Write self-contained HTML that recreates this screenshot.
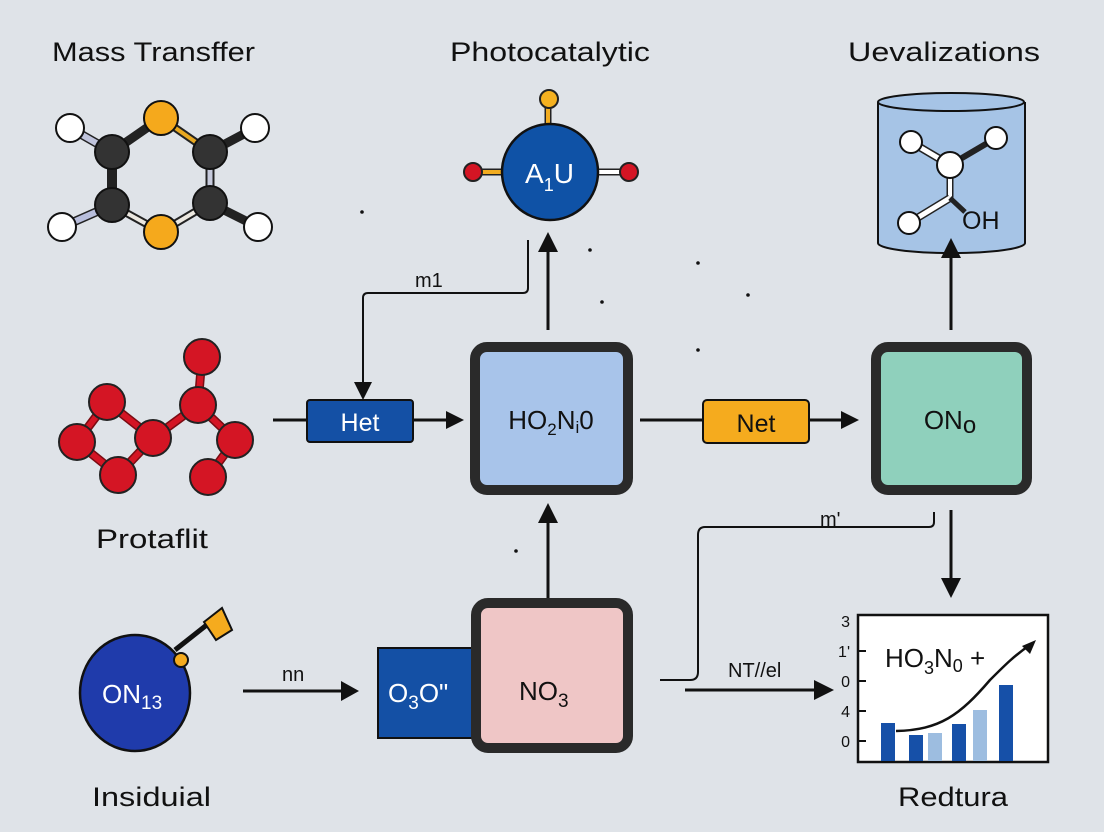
<!DOCTYPE html>
<html><head><meta charset="utf-8"><style>
html,body{margin:0;padding:0;background:#dfe3e8;}
svg{display:block;font-family:"Liberation Sans",sans-serif;}
</style></head><body>
<svg width="1104" height="832" viewBox="0 0 1104 832" xmlns="http://www.w3.org/2000/svg">
<rect width="1104" height="832" fill="#dfe3e8"/>
<!-- titles -->
<text x="52" y="61" font-size="27" fill="#111" textLength="203" lengthAdjust="spacingAndGlyphs">Mass Transffer</text>
<text x="450" y="61" font-size="27" fill="#111" textLength="200" lengthAdjust="spacingAndGlyphs">Photocatalytic</text>
<text x="848" y="61" font-size="27" fill="#111" textLength="192" lengthAdjust="spacingAndGlyphs">Uevalizations</text>
<text x="96" y="548" font-size="27" fill="#111" textLength="112" lengthAdjust="spacingAndGlyphs">Protaflit</text>
<text x="92" y="806" font-size="27" fill="#111" textLength="119" lengthAdjust="spacingAndGlyphs">Insiduial</text>
<text x="898" y="806" font-size="27" fill="#111" textLength="110" lengthAdjust="spacingAndGlyphs">Redtura</text>

<!-- hexagon molecule -->
<g stroke-linecap="round">
<line x1="70" y1="128" x2="112" y2="152" stroke="#222" stroke-width="9"/>
<line x1="70" y1="128" x2="112" y2="152" stroke="#c0c4dc" stroke-width="6"/>
<line x1="255" y1="128" x2="210" y2="152" stroke="#222" stroke-width="9"/>
<line x1="62" y1="227" x2="112" y2="205" stroke="#222" stroke-width="9"/>
<line x1="62" y1="227" x2="112" y2="205" stroke="#b8bedc" stroke-width="6"/>
<line x1="258" y1="227" x2="210" y2="203" stroke="#222" stroke-width="9"/>
<line x1="112" y1="152" x2="161" y2="118" stroke="#222" stroke-width="9"/>
<line x1="161" y1="118" x2="210" y2="152" stroke="#222" stroke-width="8"/>
<line x1="161" y1="118" x2="210" y2="152" stroke="#e8a820" stroke-width="4"/>
<line x1="112" y1="152" x2="112" y2="205" stroke="#222" stroke-width="10"/>
<line x1="210" y1="152" x2="210" y2="203" stroke="#222" stroke-width="9"/>
<line x1="210" y1="152" x2="210" y2="203" stroke="#c6cadc" stroke-width="5"/>
<line x1="112" y1="205" x2="161" y2="232" stroke="#222" stroke-width="8"/>
<line x1="112" y1="205" x2="161" y2="232" stroke="#ece8e0" stroke-width="4"/>
<line x1="161" y1="232" x2="210" y2="203" stroke="#222" stroke-width="8"/>
<line x1="161" y1="232" x2="210" y2="203" stroke="#ece8e0" stroke-width="4"/>
</g>
<g stroke="#111" stroke-width="2">
<circle cx="70" cy="128" r="14" fill="#fff"/>
<circle cx="255" cy="128" r="14" fill="#fff"/>
<circle cx="62" cy="227" r="14" fill="#fff"/>
<circle cx="258" cy="227" r="14" fill="#fff"/>
<circle cx="112" cy="152" r="17" fill="#333"/>
<circle cx="210" cy="152" r="17" fill="#333"/>
<circle cx="112" cy="205" r="17" fill="#333"/>
<circle cx="210" cy="203" r="17" fill="#333"/>
<circle cx="161" cy="118" r="17" fill="#f5a91c"/>
<circle cx="161" cy="232" r="17" fill="#f5a91c"/>
</g>

<!-- red molecule -->
<g stroke="#222" stroke-width="2" fill="#d41524">
<g stroke="#7a0b12" stroke-width="9">
<line x1="202" y1="357" x2="198" y2="405"/>
<line x1="107" y1="402" x2="153" y2="438"/>
<line x1="107" y1="402" x2="77" y2="442"/>
<line x1="77" y1="442" x2="118" y2="475"/>
<line x1="118" y1="475" x2="153" y2="438"/>
<line x1="153" y1="438" x2="198" y2="405"/>
<line x1="198" y1="405" x2="235" y2="440"/>
<line x1="235" y1="440" x2="208" y2="477"/>
</g>
<g stroke="#d41524" stroke-width="6">
<line x1="202" y1="357" x2="198" y2="405"/>
<line x1="107" y1="402" x2="153" y2="438"/>
<line x1="107" y1="402" x2="77" y2="442"/>
<line x1="77" y1="442" x2="118" y2="475"/>
<line x1="118" y1="475" x2="153" y2="438"/>
<line x1="153" y1="438" x2="198" y2="405"/>
<line x1="198" y1="405" x2="235" y2="440"/>
<line x1="235" y1="440" x2="208" y2="477"/>
</g>
<circle cx="202" cy="357" r="18"/>
<circle cx="198" cy="405" r="18"/>
<circle cx="107" cy="402" r="18"/>
<circle cx="77" cy="442" r="18"/>
<circle cx="153" cy="438" r="18"/>
<circle cx="118" cy="475" r="18"/>
<circle cx="235" cy="440" r="18"/>
<circle cx="208" cy="477" r="18"/>
</g>

<!-- A1U circle -->
<line x1="548" y1="100" x2="548" y2="130" stroke="#222" stroke-width="7"/>
<line x1="548" y1="100" x2="548" y2="130" stroke="#f2ac20" stroke-width="4"/>
<line x1="472" y1="172" x2="505" y2="172" stroke="#222" stroke-width="7"/>
<line x1="472" y1="172" x2="505" y2="172" stroke="#f2ac20" stroke-width="4"/>
<line x1="590" y1="172" x2="628" y2="172" stroke="#222" stroke-width="7"/>
<line x1="590" y1="172" x2="628" y2="172" stroke="#fff" stroke-width="4"/>
<circle cx="549" cy="99" r="9" fill="#f5b120" stroke="#222" stroke-width="2"/>
<circle cx="473" cy="172" r="9" fill="#d41524" stroke="#222" stroke-width="2"/>
<circle cx="629" cy="172" r="9" fill="#d41524" stroke="#222" stroke-width="2"/>
<circle cx="550" cy="172" r="48" fill="#0f52a6" stroke="#111" stroke-width="2.5"/>
<text x="525" y="183" font-size="28" fill="#fff">A<tspan font-size="18" dy="8">1</tspan><tspan dy="-8">U</tspan></text>

<!-- cylinder -->
<path d="M878,102 L878,243 A73,10 0 0 0 1025,243 L1025,102" fill="#a6c4e6" stroke="#111" stroke-width="2"/>
<ellipse cx="951" cy="102" rx="73" ry="9" fill="#a6c4e6" stroke="#111" stroke-width="2"/>
<g stroke="#111" stroke-width="2">
<line x1="911" y1="142" x2="950" y2="165" stroke="#222" stroke-width="8"/>
<line x1="911" y1="142" x2="950" y2="165" stroke="#fff" stroke-width="5"/>
<line x1="996" y1="138" x2="950" y2="165" stroke="#222" stroke-width="6"/>
<line x1="950" y1="165" x2="950" y2="200" stroke="#222" stroke-width="7"/>
<line x1="950" y1="165" x2="950" y2="200" stroke="#fff" stroke-width="4"/>
<line x1="950" y1="198" x2="909" y2="223" stroke="#222" stroke-width="8"/>
<line x1="950" y1="198" x2="909" y2="223" stroke="#fff" stroke-width="5"/>
<line x1="950" y1="198" x2="965" y2="212" stroke="#222" stroke-width="5"/>
<circle cx="911" cy="142" r="11" fill="#fff"/>
<circle cx="996" cy="138" r="11" fill="#fff"/>
<circle cx="950" cy="165" r="13" fill="#fff"/>
<circle cx="909" cy="223" r="11" fill="#fff"/>
</g>
<text x="962" y="229" font-size="25" fill="#111">OH</text>

<!-- connectors -->
<g stroke="#111" stroke-width="3" fill="none">
<line x1="548" y1="330" x2="548" y2="250"/>
<path d="M528,240 V288 Q528,293 523,293 H368 Q363,293 363,298 V386" stroke-width="2"/>
<line x1="273" y1="420" x2="307" y2="420"/>
<line x1="413" y1="420" x2="450" y2="420"/>
<line x1="640" y1="420" x2="703" y2="420"/>
<line x1="808" y1="420" x2="845" y2="420"/>
<line x1="951" y1="330" x2="951" y2="255"/>
<line x1="951" y1="510" x2="951" y2="582"/>
<path d="M934,512 V522 Q934,527 929,527 H705 Q698,527 698,535 V672 Q698,680 690,680 H660" stroke-width="2"/>
<line x1="548" y1="598" x2="548" y2="520"/>
<line x1="243" y1="691" x2="345" y2="691"/>
<line x1="685" y1="690" x2="818" y2="690"/>
</g>
<g fill="#111">
<polygon points="538,252 558,252 548,232"/>
<polygon points="354,382 372,382 363,400"/>
<polygon points="446,411 446,429 464,420"/>
<polygon points="841,411 841,429 859,420"/>
<polygon points="941,258 961,258 951,238"/>
<polygon points="941,578 961,578 951,598"/>
<polygon points="538,523 558,523 548,503"/>
<polygon points="341,681 341,701 359,691"/>
<polygon points="814,680 814,700 834,690"/>
<circle cx="362" cy="212" r="1.8"/><circle cx="590" cy="250" r="1.8"/><circle cx="698" cy="263" r="1.8"/>
<circle cx="602" cy="302" r="1.8"/><circle cx="748" cy="295" r="1.8"/><circle cx="698" cy="350" r="1.8"/>
<circle cx="516" cy="551" r="1.8"/>
</g>
<text x="415" y="287" font-size="20" fill="#111">m1</text>
<text x="820" y="526" font-size="20" fill="#111">m'</text>
<text x="282" y="681" font-size="20" fill="#111">nn</text>
<text x="728" y="677" font-size="20" fill="#111">NT//el</text>

<!-- Het, Net -->
<rect x="307" y="400" width="106" height="42" rx="3" fill="#1450a5" stroke="#111" stroke-width="2"/>
<text x="360" y="431" font-size="25" fill="#fff" text-anchor="middle">Het</text>
<rect x="703" y="400" width="106" height="43" rx="4" fill="#f5ab1e" stroke="#111" stroke-width="2"/>
<text x="756" y="432" font-size="25" fill="#111" text-anchor="middle">Net</text>

<!-- main boxes -->
<rect x="475" y="347" width="153" height="143" rx="12" fill="#a8c4ea" stroke="#2a2a2a" stroke-width="10"/>
<text x="551" y="429" font-size="26" fill="#111" text-anchor="middle">HO<tspan font-size="17" dy="6">2</tspan><tspan dy="-6">N</tspan><tspan font-size="17" dy="4">i</tspan><tspan dy="-4">0</tspan></text>
<rect x="876" y="347" width="151" height="143" rx="12" fill="#8fd0bc" stroke="#2a2a2a" stroke-width="10"/>
<text x="950" y="429" font-size="26" fill="#111" text-anchor="middle">ON<tspan font-size="24" dy="4">o</tspan></text>

<!-- bottom left circle -->
<line x1="175" y1="650" x2="213" y2="620" stroke="#111" stroke-width="5"/>
<polygon points="204,622 222,608 232,630 216,640" fill="#f5ab1e" stroke="#111" stroke-width="2"/>
<ellipse cx="135" cy="693" rx="55" ry="58" fill="#1f3bab" stroke="#111" stroke-width="2.5"/>
<circle cx="181" cy="660" r="7" fill="#f5ab1e" stroke="#111" stroke-width="2"/>
<text x="102" y="703" font-size="26" fill="#fff">ON<tspan font-size="19" dy="6">13</tspan></text>

<!-- O3O + NO3 -->
<rect x="378" y="648" width="96" height="90" fill="#1450a5" stroke="#111" stroke-width="2"/>
<text x="388" y="702" font-size="26" fill="#fff">O<tspan font-size="19" dy="7">3</tspan><tspan dy="-7">O"</tspan></text>
<rect x="476" y="603" width="152" height="145" rx="12" fill="#efc6c6" stroke="#2a2a2a" stroke-width="10"/>
<text x="519" y="700" font-size="26" fill="#111">NO<tspan font-size="19" dy="7">3</tspan></text>

<!-- chart -->
<rect x="858" y="615" width="190" height="147" fill="#fff" stroke="#111" stroke-width="2.5"/>
<g font-size="16" fill="#111" text-anchor="end">
<text x="850" y="627">3</text><text x="850" y="657">1'</text><text x="850" y="687">0</text><text x="850" y="717">4</text><text x="850" y="747">0</text>
</g>
<g stroke="#111" stroke-width="2">
<line x1="858" y1="651" x2="866" y2="651"/><line x1="858" y1="681" x2="866" y2="681"/><line x1="858" y1="711" x2="866" y2="711"/><line x1="858" y1="741" x2="866" y2="741"/>
</g>
<rect x="881" y="723" width="14" height="38" fill="#1650a8"/>
<rect x="909" y="735" width="14" height="26" fill="#1650a8"/>
<rect x="928" y="733" width="14" height="28" fill="#9dbde0"/>
<rect x="952" y="724" width="14" height="37" fill="#1650a8"/>
<rect x="973" y="710" width="14" height="51" fill="#9dbde0"/>
<rect x="999" y="685" width="14" height="76" fill="#1650a8"/>
<path d="M896,731 C940,730 960,715 990,680 C1005,665 1015,655 1030,645" stroke="#111" stroke-width="2.5" fill="none"/>
<polygon points="1036,640 1022,646 1030,654" fill="#111"/>
<text x="885" y="667" font-size="26" fill="#111">HO<tspan font-size="18" dy="7">3</tspan><tspan dy="-7">N</tspan><tspan font-size="18" dy="5">0</tspan><tspan dy="-5"> +</tspan></text>
</svg>
</body></html>
